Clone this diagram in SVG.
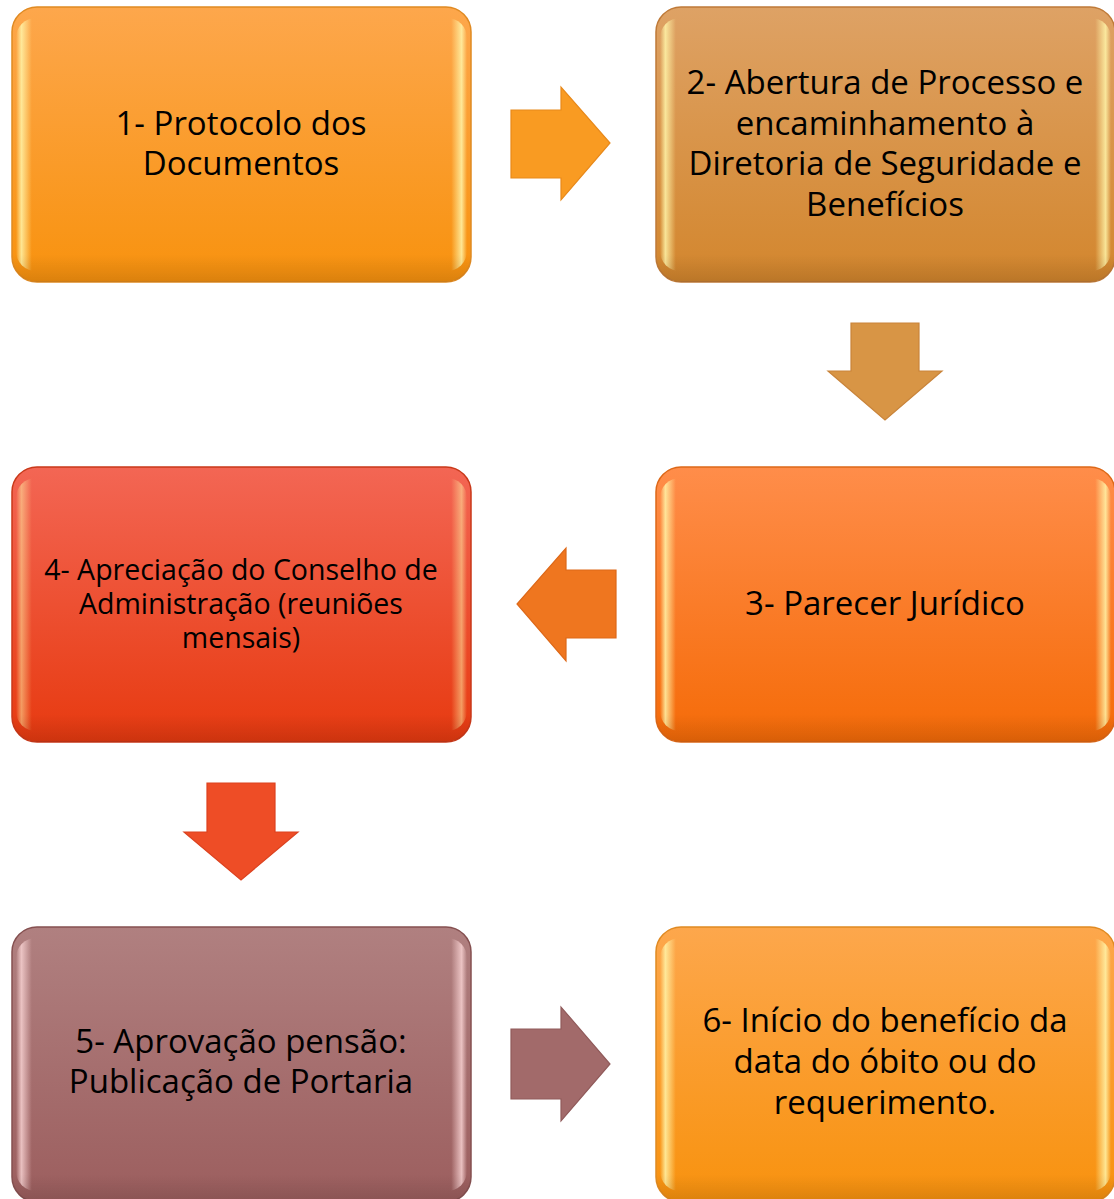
<svg xmlns="http://www.w3.org/2000/svg" width="1114" height="1199" viewBox="0 0 1114 1199">
<defs>
<linearGradient id="g1" x1="0" y1="0" x2="0" y2="1"><stop offset="0" stop-color="#FDA74C"/><stop offset="1" stop-color="#F8920E"/></linearGradient>
<linearGradient id="g2" x1="0" y1="0" x2="0" y2="1"><stop offset="0" stop-color="#DEA265"/><stop offset="1" stop-color="#D3862D"/></linearGradient>
<linearGradient id="g3" x1="0" y1="0" x2="0" y2="1"><stop offset="0" stop-color="#FF8D4A"/><stop offset="1" stop-color="#F56B08"/></linearGradient>
<linearGradient id="g4" x1="0" y1="0" x2="0" y2="1"><stop offset="0" stop-color="#F36654"/><stop offset="1" stop-color="#E73A10"/></linearGradient>
<linearGradient id="g5" x1="0" y1="0" x2="0" y2="1"><stop offset="0" stop-color="#B08080"/><stop offset="1" stop-color="#9C5E5E"/></linearGradient>
<linearGradient id="hl" x1="0" y1="0" x2="1" y2="0">
<stop offset="0" stop-color="#FFF4A8" stop-opacity="0"/>
<stop offset="0.012" stop-color="#FFF4A8" stop-opacity="0.85"/>
<stop offset="0.035" stop-color="#FFF4A8" stop-opacity="0"/>
<stop offset="0.965" stop-color="#FFF4A8" stop-opacity="0"/>
<stop offset="0.988" stop-color="#FFF4A8" stop-opacity="0.85"/>
<stop offset="1" stop-color="#FFF4A8" stop-opacity="0"/>
</linearGradient>
<linearGradient id="hlp" x1="0" y1="0" x2="1" y2="0">
<stop offset="0" stop-color="#F6D0D0" stop-opacity="0"/>
<stop offset="0.012" stop-color="#F6D0D0" stop-opacity="0.85"/>
<stop offset="0.035" stop-color="#F6D0D0" stop-opacity="0"/>
<stop offset="0.965" stop-color="#F6D0D0" stop-opacity="0"/>
<stop offset="0.988" stop-color="#F6D0D0" stop-opacity="0.85"/>
<stop offset="1" stop-color="#F6D0D0" stop-opacity="0"/>
</linearGradient>
<linearGradient id="rim" x1="0" y1="0" x2="0" y2="1">
<stop offset="0" stop-color="#000" stop-opacity="0"/>
<stop offset="0.9" stop-color="#000" stop-opacity="0"/>
<stop offset="1" stop-color="#000" stop-opacity="0.12"/>
</linearGradient>
</defs>
<style>
.box{stroke-width:1.5}
.hl{fill:url(#hl)}
.hlp{fill:url(#hlp)}
.rim{fill:url(#rim)}
.t{font-family:"Open Sans","Noto Sans","Liberation Sans",sans-serif;font-size:33px;fill:#000;text-anchor:middle}
.t4{font-size:28.5px}
.arr{stroke-width:1.2}
</style>
<rect width="1114" height="1199" fill="#fff"/>
<g id="connectors">
<polygon class="arr" points="511,110 561,110 561,87 610,143 561,200 561,178 511,178" fill="#F99B22" stroke="#E8891A"/>
<polygon class="arr" points="851,323 919,323 919,371 942,371 885,420 828,371 851,371" fill="#D89545" stroke="#C9843A"/>
<polygon class="arr" points="616,570 566,570 566,548 517,604 566,661 566,638 616,638" fill="#EF761F" stroke="#DD6818"/>
<polygon class="arr" points="207,783 275,783 275,832 298,832 241,880 184,832 207,832" fill="#EE4D26" stroke="#DC421F"/>
<polygon class="arr" points="511,1029 561,1029 561,1007 610,1064 561,1121 561,1099 511,1099" fill="#A26A6A" stroke="#905A5A"/>
</g>
<g id="node1">
<rect class="box" x="12" y="7" width="459" height="275" rx="25" fill="url(#g1)" stroke="#E08A22"/>
<rect class="hl" x="16" y="18" width="451" height="253" rx="20"/>
<rect class="rim" x="12" y="7" width="459" height="275" rx="25"/>
<text class="t" x="241" y="135">1- Protocolo dos<tspan x="241" dy="40">Documentos</tspan></text>
</g>
<g id="node2">
<rect class="box" x="656" y="7" width="459" height="275" rx="25" fill="url(#g2)" stroke="#BF7A38"/>
<rect class="hl" x="660" y="18" width="451" height="253" rx="20"/>
<rect class="rim" x="656" y="7" width="459" height="275" rx="25"/>
<text class="t" x="885" y="94">2- Abertura de Processo e<tspan x="885" dy="41">encaminhamento à</tspan><tspan x="885" dy="40">Diretoria de Seguridade e</tspan><tspan x="885" dy="41">Benefícios</tspan></text>
</g>
<g id="node3">
<rect class="box" x="656" y="467" width="459" height="275" rx="25" fill="url(#g3)" stroke="#DD6818"/>
<rect class="hl" x="660" y="478" width="451" height="253" rx="20"/>
<rect class="rim" x="656" y="467" width="459" height="275" rx="25"/>
<text class="t" x="885" y="615">3- Parecer Jurídico</text>
</g>
<g id="node4">
<rect class="box" x="12" y="467" width="459" height="275" rx="25" fill="url(#g4)" stroke="#C9391A"/>
<rect class="hl" x="16" y="478" width="451" height="253" rx="20" opacity="0.6"/>
<rect class="rim" x="12" y="467" width="459" height="275" rx="25"/>
<text class="t t4" x="241" y="580">4- Apreciação do Conselho de<tspan x="241" dy="34">Administração (reuniões</tspan><tspan x="241" dy="34">mensais)</tspan></text>
</g>
<g id="node5">
<rect class="box" x="12" y="927" width="459" height="275" rx="25" fill="url(#g5)" stroke="#855050"/>
<rect class="hlp" x="16" y="938" width="451" height="253" rx="20"/>
<rect class="rim" x="12" y="927" width="459" height="275" rx="25"/>
<text class="t" x="241" y="1053">5- Aprovação pensão:<tspan x="241" dy="40">Publicação de Portaria</tspan></text>
</g>
<g id="node6">
<rect class="box" x="656" y="927" width="459" height="275" rx="25" fill="url(#g1)" stroke="#E08A22"/>
<rect class="hl" x="660" y="938" width="451" height="253" rx="20"/>
<rect class="rim" x="656" y="927" width="459" height="275" rx="25"/>
<text class="t" x="885" y="1032">6- Início do benefício da<tspan x="885" dy="41">data do óbito ou do</tspan><tspan x="885" dy="41">requerimento.</tspan></text>
</g>
</svg>
